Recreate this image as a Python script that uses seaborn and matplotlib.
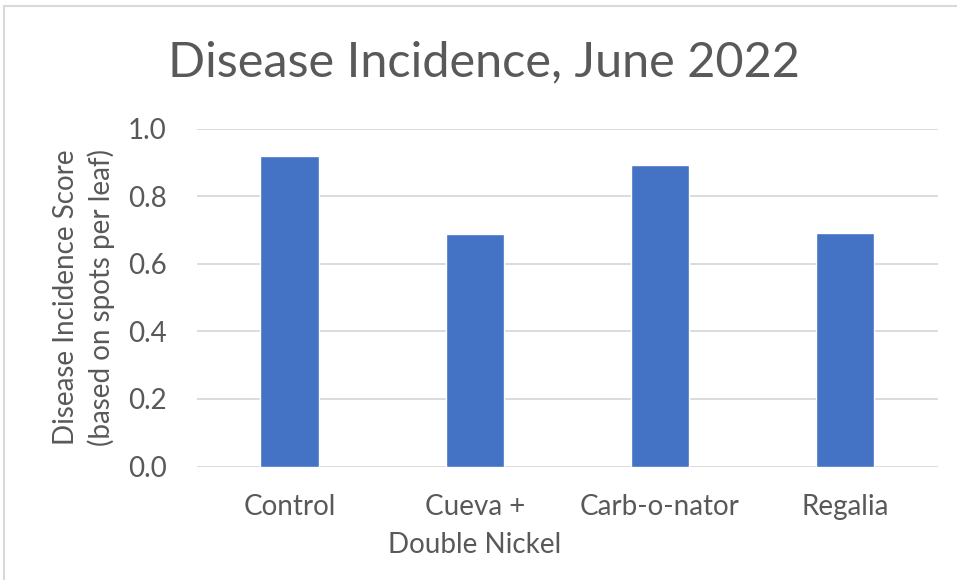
import matplotlib
matplotlib.use("Agg")
import matplotlib.pyplot as plt
import seaborn as sns
import pandas as pd
from matplotlib.lines import Line2D

categories = ["Control", "Cueva +\nDouble Nickel", "Carb-o-nator", "Regalia"]
scores = [0.92, 0.688, 0.892, 0.69]
yticks = [0.0, 0.2, 0.4, 0.6, 0.8, 1.0]
title = "Disease Incidence, June 2022"
ylabel = "Disease Incidence Score\n(based on spots per leaf)"

sns.set_theme(style="white")
plt.rcParams['font.family'] = ['Lato', 'DejaVu Sans']
text_color = "#595959"

df = pd.DataFrame({"Treatment": categories, "Score": scores})

fig = plt.figure(figsize=(9.57, 5.8), dpi=100)
ax = fig.add_axes([197/957, 1 - 466.5/580, (937.5-197)/957, (466.5-128.5)/580])

sns.barplot(data=df, x="Treatment", y="Score", color="#4472C4", saturation=1,
            width=0.314, ax=ax, zorder=3)

ax.set_ylim(0, 1.0)
ax.set_yticks(yticks)
ax.set_yticklabels([f"{v:.1f}" for v in yticks])
ax.yaxis.grid(True, color="#D9D9D9", linewidth=1.3, zorder=0)
ax.set_axisbelow(True)
for s in ax.spines.values():
    s.set_visible(False)
ax.tick_params(axis='both', length=0, labelsize=20, colors=text_color)
ax.tick_params(axis='y', pad=22)
ax.tick_params(axis='x', pad=20)
for lbl in ax.get_xticklabels():
    lbl.set_linespacing(1.55)
ax.set_xlabel("")
ax.set_ylabel(ylabel, fontsize=20, color=text_color, labelpad=9, linespacing=1.4)

fig.text(484/957, 1 - 62/580, title, ha="center", va="center", fontsize=35, color=text_color)

fig.add_artist(Line2D([4/957, 4/957], [0, 1 - 6/580], transform=fig.transFigure, color="#D9D9D9", linewidth=1.5))
fig.add_artist(Line2D([4/957, 1], [1 - 6/580, 1 - 6/580], transform=fig.transFigure, color="#D9D9D9", linewidth=1.5))

fig.savefig("out.png", dpi=100)
